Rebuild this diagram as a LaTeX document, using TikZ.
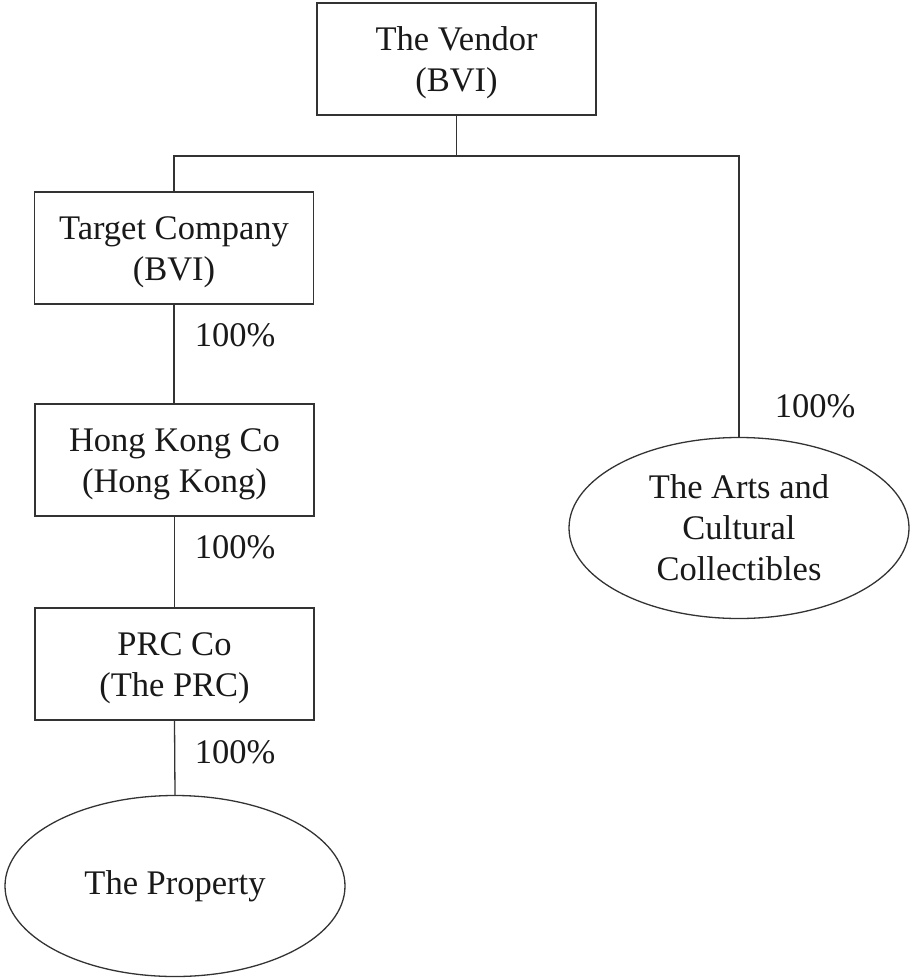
\documentclass[tikz,border=0pt]{standalone}
\usepackage{fontspec}
\setmainfont{Liberation Serif}
\usetikzlibrary{shapes.geometric}
\begin{document}
\begin{tikzpicture}[x=1pt,y=-1pt,
  line width=1.3pt, draw=black!80,
  every node/.style={font=\fontsize{34.5}{41}\selectfont, text=black!90},
  box/.style={draw, rectangle, minimum width=279pt, minimum height=112pt, inner sep=0pt},
  boxtext/.style={align=center, inner sep=0pt},
  oval/.style={draw, ellipse, minimum width=340pt, minimum height=181pt, align=center, inner sep=0pt},
  pct/.style={anchor=base}]
\useasboundingbox (0,0) rectangle (911,979);
\node[box] (vendor) at (456.5,59) {};
\node[box] (target) at (174,248) {};
\node[box] (hk) at (174.5,460) {};
\node[box] (prc) at (174.5,664) {};
\node[boxtext] (vendorT) at ([yshift=-4pt]vendor.center) {The Vendor\\(BVI)};
\node[boxtext] (targetT) at ([yshift=-4pt]target.center) {Target Company\\(BVI)};
\node[boxtext] (hkT) at ([yshift=-4pt]hk.center) {Hong Kong Co\\(Hong Kong)};
\node[boxtext] (prcT) at ([yshift=-4pt]prc.center) {PRC Co\\(The PRC)};
\node[oval] (property) at (175,886) {The Property};
\node[oval] (arts) at (739,528) {The Arts and\\Cultural\\Collectibles};
\coordinate (split) at (456.5,156);
\draw (vendor.south) -- (split);
\draw (target.north) |- (split) -| (arts.north);
\draw (target.south) -- (target.south |- hk.north);
\draw (hk.south) -- (hk.south |- prc.north);
\draw (prc.south) -- (property.north);
\node[pct] (p1) at (235,346) {100\%};
\node[pct] (p2) at (235,558) {100\%};
\node[pct] (p3) at (235,763) {100\%};
\node[pct] (p4) at (815,417) {100\%};
\end{tikzpicture}
\end{document}
